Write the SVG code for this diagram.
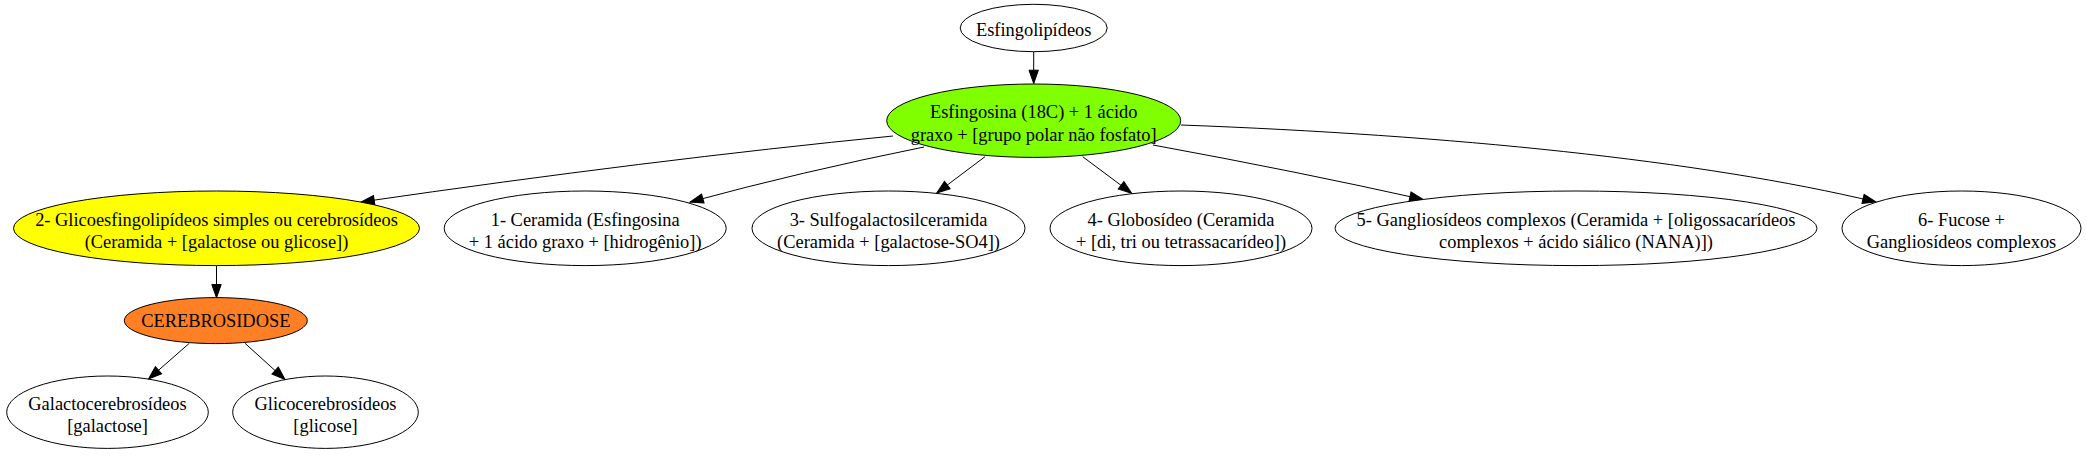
<svg xmlns="http://www.w3.org/2000/svg" width="2086" height="456" viewBox="0 0 2086 456">
<style>
  .n ellipse { stroke: #000; stroke-width: 1; }
  .w { fill: #fff; }
  text { font-family: "Liberation Serif", "Times New Roman", serif; font-size: 18.4px; fill: #000; text-anchor: middle; }
  .e path { fill: none; stroke: #000; stroke-width: 1; marker-end: url(#arr); }
</style>
<defs>
  <marker id="arr" markerUnits="userSpaceOnUse" viewBox="0 -5 14 10" markerWidth="14" markerHeight="10" refX="13.3" refY="0" orient="auto" overflow="visible">
    <path d="M0,-4.7 L13.3,0 L0,4.7 Z" fill="#000" stroke="#000" stroke-width="1"/>
  </marker>
</defs>
<rect x="0" y="0" width="2086" height="456" fill="#fff"/>

<g id="edges" class="e">
  <path d="M1033.7,51.7 L1033.7,83.5"/>
  <path d="M893,136 Q650,160 361,202"/>
  <path d="M924,147 Q800,172 690,202"/>
  <path d="M985,156.7 L936.7,193"/>
  <path d="M1082.7,156.7 L1131.7,193.3"/>
  <path d="M1153,145 Q1300,172 1423,199.5"/>
  <path d="M1181,125 C1450,135 1700,160 1876,202"/>
  <path d="M216.5,265.7 L216.5,297.8"/>
  <path d="M189.3,343.3 L148.5,379"/>
  <path d="M245,343.3 L285,379.5"/>
</g>

<g id="esfingolipideos" class="n">
  <ellipse class="w" cx="1033.7" cy="28" rx="73.5" ry="23.7"/>
  <text x="1033.7" y="36">Esfingolipídeos</text>
</g>

<g id="esfingosina" class="n">
  <ellipse cx="1033.7" cy="120.7" rx="147" ry="36.7" fill="#7fff00"/>
  <text x="1033.7" y="118.2">Esfingosina (18C) + 1 ácido</text>
  <text x="1033.7" y="140.6">graxo + [grupo polar não fosfato]</text>
</g>

<g id="glicoesfingolipideos" class="n">
  <ellipse cx="216.5" cy="228.3" rx="203" ry="37.3" fill="#ffff00"/>
  <text x="216.5" y="225.8">2- Glicoesfingolipídeos simples ou cerebrosídeos</text>
  <text x="216.5" y="248.2">(Ceramida + [galactose ou glicose])</text>
</g>

<g id="ceramida" class="n">
  <ellipse class="w" cx="585.2" cy="228.3" rx="141" ry="37.3"/>
  <text x="585.2" y="225.8">1- Ceramida (Esfingosina</text>
  <text x="585.2" y="248.2">+ 1 ácido graxo + [hidrogênio])</text>
</g>

<g id="sulfogalactosilceramida" class="n">
  <ellipse class="w" cx="888.5" cy="228.3" rx="136.5" ry="37.3"/>
  <text x="888.5" y="225.8">3- Sulfogalactosilceramida</text>
  <text x="888.5" y="248.2">(Ceramida + [galactose-SO4])</text>
</g>

<g id="globosideo" class="n">
  <ellipse class="w" cx="1181" cy="228.3" rx="131" ry="37.3"/>
  <text x="1181" y="225.8">4- Globosídeo (Ceramida</text>
  <text x="1181" y="248.2">+ [di, tri ou tetrassacarídeo])</text>
</g>

<g id="gangliosideos" class="n">
  <ellipse class="w" cx="1576" cy="228.3" rx="241" ry="37.3"/>
  <text x="1576" y="225.8">5- Gangliosídeos complexos (Ceramida + [oligossacarídeos</text>
  <text x="1576" y="248.2">complexos + ácido siálico (NANA)])</text>
</g>

<g id="fucose" class="n">
  <ellipse class="w" cx="1961.5" cy="228.3" rx="119.5" ry="37.3"/>
  <text x="1961.5" y="225.8">6- Fucose +</text>
  <text x="1961.5" y="248.2">Gangliosídeos complexos</text>
</g>

<g id="cerebrosidose" class="n">
  <ellipse cx="215.8" cy="320.6" rx="91.5" ry="23" fill="#ff7f24"/>
  <text x="215.8" y="327.3">CEREBROSIDOSE</text>
</g>

<g id="galactocerebrosideos" class="n">
  <ellipse class="w" cx="107.5" cy="412.2" rx="100.8" ry="36.2"/>
  <text x="107.5" y="409.8">Galactocerebrosídeos</text>
  <text x="107.5" y="432.2">[galactose]</text>
</g>

<g id="glicocerebrosideos" class="n">
  <ellipse class="w" cx="325.5" cy="412.2" rx="92.8" ry="36.2"/>
  <text x="325.5" y="409.8">Glicocerebrosídeos</text>
  <text x="325.5" y="432.2">[glicose]</text>
</g>
</svg>
